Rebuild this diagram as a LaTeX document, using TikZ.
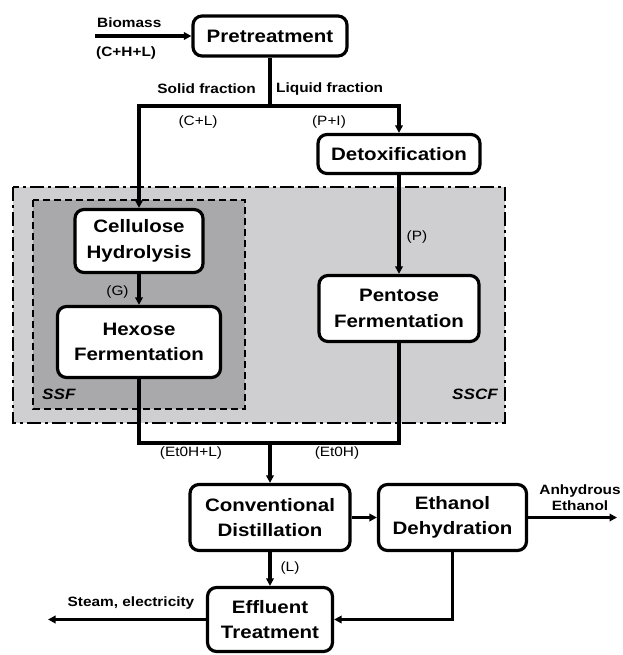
\documentclass[tikz,border=0pt]{standalone}
\usepackage{fontspec}
\setmainfont{Liberation Sans}[FakeStretch=1.14]
\usetikzlibrary{arrows.meta}
\definecolor{sscfgray}{HTML}{CFCFD1}
\definecolor{ssfgray}{HTML}{A9A9AB}
\tikzset{
  stage/.style={draw, line width=3.2pt, rounded corners=9pt, fill=white, align=center,
    inner sep=0pt, font=\fontsize{18}{25.5}\selectfont\bfseries},
  flow/.style={line width=3.2pt},
  feed/.style={flow, -{Triangle[length=7.5pt,width=7.5pt]}},
  lbl/.style={inner sep=0pt, font=\fontsize{13.5}{16}\selectfont\bfseries},
  tag/.style={inner sep=0pt, font=\fontsize{13.5}{16}\selectfont},
  zone/.style={inner sep=0pt, font=\fontsize{15}{18}\selectfont\bfseries\itshape},
}
\begin{document}
\begin{tikzpicture}[x=1pt,y=-1pt]
\useasboundingbox (0,0) rectangle (622,655);

% process zones: SSCF (outer) and SSF (inner)
\draw[fill=sscfgray, line width=2.8pt, dash pattern=on 14pt off 4pt on 3pt off 4pt]
  (13,187) rectangle (505,423);
\draw[fill=ssfgray, line width=2.8pt, dash pattern=on 7pt off 4pt]
  (33,200) rectangle (245,409);
\node[zone, anchor=base west] (ssf) at (42,399) {SSF};
\node[zone, anchor=base east] (sscf) at (498,399) {SSCF};

% process stages
\node[stage, minimum width=154pt, minimum height=40pt] (pre) at (270,36) {Pretreatment};
\node[stage, minimum width=162pt, minimum height=39pt] (detox) at (399,154) {Detoxification};
\node[stage, minimum width=128pt, minimum height=63pt] (cell) at (139,241) {Cellulose\\Hydrolysis};
\node[stage, minimum width=163pt, minimum height=71pt] (hex) at (139,342) {Hexose\\Fermentation};
\node[stage, minimum width=160pt, minimum height=66pt] (pent) at (399,308.5) {Pentose\\Fermentation};
\node[stage, minimum width=160pt, minimum height=66pt] (cd) at (270,517.5) {Conventional\\Distillation};
\node[stage, minimum width=148pt, minimum height=66pt] (ed) at (452.5,517.5) {Ethanol\\Dehydration};
\node[stage, minimum width=125pt, minimum height=64pt] (eff) at (270,619.5) {Effluent\\Treatment};

% streams
\coordinate (bio) at (95,36);
\coordinate (split) at (270,106);
\coordinate (merge) at (270,443);
\coordinate (anh) at (617,517.5);
\coordinate (steam) at (48,619.5);

\draw[feed] (bio) -- (pre);
\draw[flow] (pre) -- (split);
\draw[feed] (split) -| (cell);
\draw[feed] (split) -| (detox);
\draw[feed] (cell) -- (hex);
\draw[feed] (detox) -- (pent);
\draw[flow] (hex) |- (merge);
\draw[flow] (pent) |- (merge);
\draw[feed] (merge) -- (cd);
\draw[feed] (cd) -- (ed);
\draw[feed] (ed) -- (anh);
\draw[feed] (cd) -- (eff);
\draw[feed] (ed) |- (eff);
\draw[feed] (eff) -- (steam);

% stream labels
\node[lbl, anchor=base west] (biomass) at (97,28) {Biomass};
\node[lbl, anchor=west] (chl) at (96,53) {(C+H+L)};
\node[lbl, anchor=east] (solid) at (256,89) {Solid fraction};
\node[lbl, anchor=west] (liquid) at (276,89) {Liquid fraction};
\node[tag] (cl) at (198,122) {(C+L)};
\node[tag] (pi) at (329,122) {(P+I)};
\node[tag] (g) at (117.5,292) {(G)};
\node[tag] (p) at (417,237) {(P)};
\node[tag] (etl) at (191,453) {(Et0H+L)};
\node[tag] (et) at (337,453) {(Et0H)};
\node[tag] (l) at (290,568) {(L)};
\node[lbl] (steamlbl) at (131,603) {Steam, electricity};
\node[lbl, align=center] (anhlbl) at (580,498) {Anhydrous\\Ethanol};
\end{tikzpicture}
\end{document}
